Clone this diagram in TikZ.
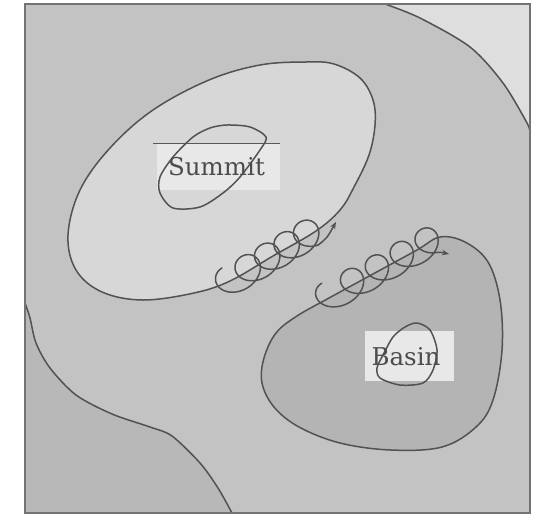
\documentclass[tikz,border=0pt]{standalone}
\usepackage{fontspec}
\newfontfamily\labelfont{DejaVu Serif}
\usetikzlibrary{arrows.meta}

\definecolor{plain}{gray}{0.765}
\definecolor{high}{gray}{0.845}
\definecolor{corner}{gray}{0.87}
\definecolor{low}{gray}{0.705}
\definecolor{lowleft}{gray}{0.72}
\definecolor{ink}{gray}{0.32}
\definecolor{textink}{gray}{0.3}
\definecolor{labelbg}{gray}{0.91}
\definecolor{framecol}{gray}{0.45}

\begin{document}
\begin{tikzpicture}[x=1pt,y=-1pt,
  contour/.style={draw=ink,line width=1.5pt,line join=round},
  curl/.style={draw=ink,line width=1.5pt,line cap=round,line join=round},
  curlarrow/.style={curl,-{Stealth[length=7pt,width=5.5pt]}},
  labelbox/.style={fill=labelbg},
  labeltext/.style={text=textink,font=\labelfont\fontsize{24.5}{30}\selectfont,inner sep=0pt,anchor=base}]

\useasboundingbox (0,0) rectangle (533,517);
\fill[white] (0,0) rectangle (533,517);

% level regions
\fill[plain] (25,4) rectangle (530,513);
\fill[corner] plot[smooth] coordinates {(385,4) (420,18) (470,47) (503,83) (527,123) (530,133)} -- (530,4) -- cycle;
\fill[lowleft] plot[smooth] coordinates {(25,303) (30,318) (36,343) (50,368) (76,395) (112,414) (150,427) (172,436) (200,463) (218,488) (232,513)} -- (25,513) -- cycle;

% summit contour
\path[contour,fill=high] plot[smooth cycle,tension=0.6] coordinates {
  (306,62) (334,64) (360,78) (373,100) (375,125) (369,155) (354,187) (340,210)
  (316,231) (273,256) (230,281) (194,293) (143,300) (102,292) (76,270) (68,235)
  (80,190) (110,148) (153,110) (209,80) (260,65)};

% basin contour
\path[contour,fill=low] plot[smooth cycle,tension=0.6] coordinates {
  (262,383) (264,358) (276,333) (297,316) (329,298) (373,274) (417,250) (440,237)
  (465,242) (488,262) (500,300) (502,350) (493,400) (476,427) (442,447) (391,450)
  (340,443) (299,427) (274,407)};

% outer contours
\draw[contour] plot[smooth] coordinates {(385,4) (420,18) (470,47) (503,83) (527,123) (530,133)};
\draw[contour] plot[smooth] coordinates {(25,303) (30,318) (36,343) (50,368) (76,395) (112,414) (150,427) (172,436) (200,463) (218,488) (232,513)};

% labels with their small loops
\fill[labelbox] (157,143) rectangle (280,190);
\draw[draw=gray!70!black,line width=0.6pt] (153,143) -- (280,143);
\draw[contour] plot[smooth cycle] coordinates {(227,125) (250,127) (266,137) (260,150) (240,177) (223,193) (200,207) (173,208) (160,193) (160,177) (173,157) (193,137) (210,128)};
\node[labeltext] (summit) at (216.5,175) {Summit};

\fill[labelbox] (365,331) rectangle (454,381);
\draw[contour] plot[smooth cycle] coordinates {(417,323) (430,330) (437,350) (433,370) (423,383) (400,385) (380,378) (377,368) (383,355) (393,337) (405,327)};
\node[labeltext] (basin) at (406,365) {Basin};

% curling trajectories along the contours (prolate trochoids)
\coordinate (tip1) at (336,222);
\coordinate (tip2) at (449,254);
\begin{scope}[shift={(229.6,280.9)},rotate=30.5]
  \draw[curl] plot[domain=0:1600,samples=440] ({0.062832*\x-18*sin(\x)},{-15*cos(\x)}) coordinate (end1);
\end{scope}
\begin{scope}[shift={(328.9,296.5)},rotate=28.5]
  \draw[curl] plot[domain=0:1580,samples=440] ({0.07854*\x-18*sin(\x)},{-15*cos(\x)}) coordinate (end2);
\end{scope}
\draw[curlarrow] (end1) .. controls (327,238) .. (tip1);
\draw[curlarrow] (end2) .. controls (440,252) .. (tip2);

% frame
\draw[draw=framecol,line width=1.8pt] (25,4) rectangle (530,513);
\end{tikzpicture}
\end{document}
